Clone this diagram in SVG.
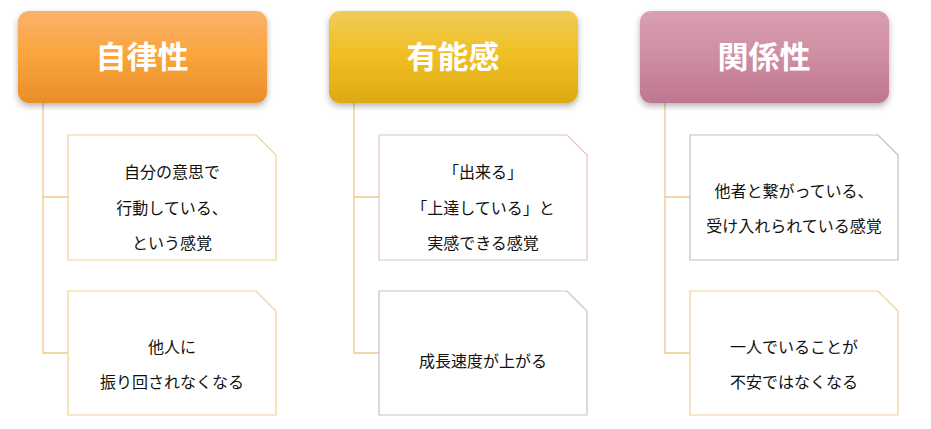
<svg xmlns="http://www.w3.org/2000/svg" width="931" height="429" viewBox="0 0 931 429">
<defs>
<linearGradient id="g1" x1="0" y1="0" x2="0" y2="1"><stop offset="0" stop-color="#F9B36A"/><stop offset="0.5" stop-color="#F9A43C"/><stop offset="1" stop-color="#E98E2A"/></linearGradient>
<linearGradient id="g2" x1="0" y1="0" x2="0" y2="1"><stop offset="0" stop-color="#F0CC56"/><stop offset="0.5" stop-color="#F0BE22"/><stop offset="1" stop-color="#DCA912"/></linearGradient>
<linearGradient id="g3" x1="0" y1="0" x2="0" y2="1"><stop offset="0" stop-color="#DA9FB1"/><stop offset="0.5" stop-color="#CE8DA2"/><stop offset="1" stop-color="#BE7690"/></linearGradient>
<filter id="sh" x="-10%" y="-10%" width="120%" height="130%"><feDropShadow dx="0" dy="3" stdDeviation="3" flood-color="#000" flood-opacity="0.3"/></filter>
</defs>
<style>
.h{font-family:"Noto Sans CJK JP",sans-serif;font-weight:bold;font-size:31px;fill:#fff;text-anchor:middle}
.t{font-family:"Noto Sans CJK JP",sans-serif;font-size:16px;fill:#111;text-anchor:middle}
.c{fill:none;stroke:#F0C78A;stroke-width:1.3}
.b{fill:#fff;stroke-width:1.2}
</style>
<rect width="931" height="429" fill="#fff"/>
<g id="connectors">
<path class="c" d="M43 103V353H68M43 197H68"/>
<path class="c" d="M354 103V353H379M354 197H379"/>
<path class="c" d="M665 103V353H690M665 197H690"/>
</g>
<g id="h1"><rect x="18" y="11" width="249" height="92" rx="11" fill="url(#g1)" filter="url(#sh)"/><text class="h" x="142" y="68">自律性</text></g>
<g id="h2"><rect x="329" y="11" width="249" height="92" rx="11" fill="url(#g2)" filter="url(#sh)"/><text class="h" x="453" y="68">有能感</text></g>
<g id="h3"><rect x="640" y="11" width="249" height="92" rx="11" fill="url(#g3)" filter="url(#sh)"/><text class="h" x="764" y="68">関係性</text></g>
<g id="n1a"><path class="b" stroke="#F3CF95" d="M68 135H256L276 155V260H68Z"/><text class="t" x="172" y="178">自分の意思で</text><text class="t" x="172" y="214">行動している、</text><text class="t" x="172" y="249">という感覚</text></g>
<g id="n1b"><path class="b" stroke="#F3CF95" d="M68 291H256L276 311V415H68Z"/><text class="t" x="172" y="353">他人に</text><text class="t" x="172" y="388">振り回されなくなる</text></g>
<g id="n2a"><path class="b" stroke="#E2C3C3" d="M379 135H567L587 155V260H379Z"/><text class="t" x="483" y="178">「出来る」</text><text class="t" x="483" y="214">「上達している」と</text><text class="t" x="483" y="249">実感できる感覚</text></g>
<g id="n2b"><path class="b" stroke="#BFC6D0" d="M379 291H567L587 311V415H379Z"/><text class="t" x="483" y="367">成長速度が上がる</text></g>
<g id="n3a"><path class="b" stroke="#B3C1CF" d="M690 135H878L898 155V260H690Z"/><text class="t" x="794" y="197">他者と繋がっている、</text><text class="t" x="794" y="232">受け入れられている感覚</text></g>
<g id="n3b"><path class="b" stroke="#F3CF95" d="M690 291H878L898 311V415H690Z"/><text class="t" x="794" y="353">一人でいることが</text><text class="t" x="794" y="388">不安ではなくなる</text></g>
</svg>
